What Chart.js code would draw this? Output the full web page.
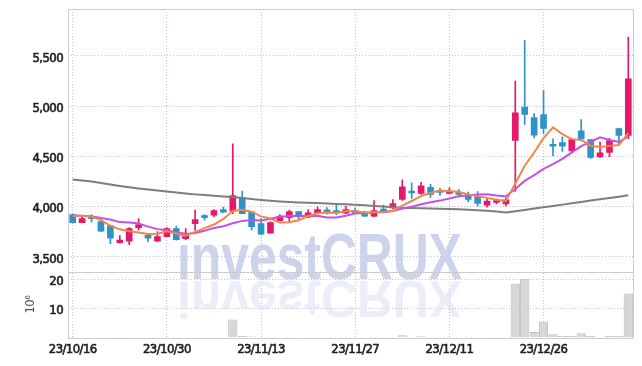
<!DOCTYPE html>
<html><head><meta charset="utf-8">
<script src="https://cdn.jsdelivr.net/npm/chart.js@4/dist/chart.umd.min.js"></script>
<style>html,body{margin:0;padding:0;background:#fff;overflow:hidden}</style>
</head><body>
<canvas id="c" width="642" height="366" style="width:642px;height:366px;display:block"></canvas>
<script>
const dates = ['23/10/16','23/10/17','23/10/18','23/10/19','23/10/20','23/10/23','23/10/24','23/10/25','23/10/26','23/10/27','23/10/30','23/10/31','23/11/01','23/11/02','23/11/03','23/11/06','23/11/07','23/11/08','23/11/09','23/11/10','23/11/13','23/11/14','23/11/15','23/11/16','23/11/17','23/11/20','23/11/21','23/11/22','23/11/23','23/11/24','23/11/27','23/11/28','23/11/29','23/11/30','23/12/01','23/12/04','23/12/05','23/12/06','23/12/07','23/12/08','23/12/11','23/12/12','23/12/13','23/12/14','23/12/15','23/12/18','23/12/19','23/12/20','23/12/21','23/12/22','23/12/26','23/12/27','23/12/28','24/01/02','24/01/03','24/01/04','24/01/05','24/01/08','24/01/09','24/01/10'];

const opens  = [3920,3840,3890,3850,3810,3640,3655,3790,3715,3655,3700,3780,3680,3830,3895,3915,3970,3955,4090,3945,3830,3735,3860,3890,3950,3895,3940,3960,3960,3935,3960,3925,3905,3965,3985,4070,4155,4130,4190,4150,4130,4140,4120,4100,4013,4040,4027,4659,4990,4885,4915,4620,4636,4553,4755,4666,4494,4540,4775,4709];
const highs  = [3925,3905,3920,3855,3815,3710,3790,3880,3720,3750,3790,3805,3780,3965,3920,3970,3995,4625,4155,3950,3880,3850,3920,3965,3950,3970,3997,3990,4020,4003,3985,3955,4060,4015,4070,4265,4235,4240,4220,4180,4185,4170,4145,4150,4073,4075,4087,5250,5655,4925,5156,4675,4693,4680,4865,4670,4643,4680,4780,5687];
const lows   = [3835,3838,3845,3750,3630,3635,3620,3765,3650,3650,3700,3665,3670,3765,3865,3900,3940,3930,3930,3765,3720,3735,3860,3845,3880,3890,3935,3925,3920,3930,3930,3900,3900,3945,3975,4060,4080,4120,4090,4110,4125,4095,4045,4005,3993,4025,4007,4150,4818,4683,4726,4505,4550,4550,4660,4480,4490,4494,4626,4676];
const closes = [3840,3880,3880,3755,3685,3665,3780,3820,3685,3700,3780,3670,3715,3870,3890,3960,3945,4110,3930,3800,3725,3840,3905,3950,3900,3937,3970,3948,3937,3970,3940,3905,3960,3955,4030,4195,4135,4205,4120,4140,4155,4120,4070,4030,4053,4060,4067,4934,4918,4710,4778,4600,4600,4666,4673,4490,4534,4656,4709,5272];

const volumes = [0.15,0.1,0.12,0.2,0.15,0.1,0.15,0.12,0.1,0.1,0.12,0.15,0.1,0.2,0.1,0.15,0.1,6.2,0.5,0.35,0.15,0.12,0.1,0.15,0.1,0.1,0.12,0.1,0.1,0.1,0.12,0.1,0.15,0.1,0.2,0.8,0.2,0.45,0.2,0.15,0.15,0.1,0.15,0.2,0.15,0.1,0.15,18.5,20.2,1.9,5.5,1.1,0.55,0.55,1.5,0.5,0.2,0.5,0.5,15.1];

const ma5  = [3905,3905,3900,3865,3808,3773,3753,3741,3727,3730,3753,3731,3710,3747,3785,3821,3876,3955,3967,3949,3902,3881,3840,3844,3864,3906,3932,3941,3938,3952,3953,3940,3942,3946,3958,4009,4055,4104,4137,4159,4151,4148,4121,4103,4086,4067,4056,4229,4406,4538,4681,4788,4721,4671,4663,4606,4593,4604,4612,4732];
const ma10 = [3912,3908,3903,3885,3870,3845,3840,3830,3800,3775,3763,3742,3726,3737,3758,3787,3804,3833,3857,3867,3862,3879,3898,3906,3907,3904,3907,3891,3891,3908,3930,3936,3942,3942,3955,3981,3998,4023,4042,4059,4080,4102,4113,4120,4122,4109,4102,4175,4255,4312,4374,4422,4475,4539,4601,4644,4690,4663,4642,4698];
const ma60 = [4268,4258,4249,4234,4219,4204,4191,4179,4169,4159,4149,4139,4129,4121,4114,4107,4101,4094,4084,4075,4065,4057,4050,4045,4040,4037,4034,4030,4026,4022,4017,4012,4006,4000,3994,3988,3985,3982,3980,3977,3975,3972,3968,3963,3958,3950,3940,3953,3966,3980,3993,4006,4019,4032,4045,4059,4072,4085,4098,4112];

const priceTicks = [3500,4000,4500,5000,5500];
const volumeTicks = [10,20];
const labelEvery = 10;

const UP = '#e6186b', DOWN = '#2e94c8';
const GRID = '#bfc3d9';
const TEXT = '#1e1e1e';
const FONT = "'DejaVu Sans Condensed','Liberation Sans',sans-serif";

const candleColors = closes.map((c,i)=> c >= opens[i] ? UP : DOWN);
const wickData = lows.map((l,i)=>[l, highs[i]]);
const bodyData = opens.map((o,i)=>[o, closes[i]]);

const tightText = {
  id:'tightText',
  beforeDraw(chart){ chart.ctx.letterSpacing = '-0.6px'; },
  beforeDatasetsDraw(chart){ chart.ctx.letterSpacing = '0px'; }
};

const watermark = {
  id:'watermark',
  beforeDatasetsDraw(chart){
    const ctx = chart.ctx;
    const text = 'investCRUX';
    ctx.save();
    ctx.letterSpacing = '0px';
    ctx.font = "bold 65px 'Liberation Sans', sans-serif";
    const w = ctx.measureText(text).width;
    ctx.translate(177, 279);
    ctx.scale(285 / w, 1);
    ctx.textBaseline = 'alphabetic';
    ctx.fillStyle = 'rgba(196,203,230,0.85)';
    ctx.fillText(text, 0, 0);
    ctx.scale(1, -0.8);
    ctx.fillStyle = 'rgba(212,216,237,0.45)';
    ctx.fillText(text, 0, -2);
    ctx.restore();
  }
};

const frame = {
  id:'frame',
  afterDatasetsDraw(chart){
    const ctx = chart.ctx;
    const a = chart.chartArea;
    const yv = chart.scales.yv;
    ctx.save();
    ctx.strokeStyle = '#cccccc';
    ctx.lineWidth = 1;
    const L = Math.round(a.left)+0.5, R = Math.round(a.right)+0.5, T = Math.round(a.top)+0.5, B = Math.round(a.bottom)+0.5;
    ctx.beginPath();
    ctx.moveTo(L,T); ctx.lineTo(R,T); ctx.lineTo(R,B); ctx.lineTo(L,B); ctx.closePath();
    const D = Math.round(yv.top)+0.5;
    ctx.moveTo(L,D); ctx.lineTo(R,D);
    ctx.stroke();
    ctx.restore();
  }
};

function noPadV(s){ s.width = 68; s.paddingTop = 0; s.paddingBottom = 0; }

new Chart(document.getElementById('c'), {
  data: {
    labels: dates,
    datasets: [
      {type:'line', label:'MA5', data:ma5, yAxisID:'y', borderColor:'#ee8748', borderWidth:2, pointRadius:0, tension:0, order:0},
      {type:'line', label:'MA10', data:ma10, yAxisID:'y', borderColor:'#c94fe2', borderWidth:2, pointRadius:0, tension:0, order:0},
      {type:'line', label:'MA60', data:ma60, yAxisID:'y', borderColor:'#7d7d7d', borderWidth:2, pointRadius:0, tension:0, order:0},
      {type:'bar', label:'body', data:bodyData, yAxisID:'y', backgroundColor:candleColors, barThickness:6, minBarLength:2, grouped:false, order:2},
      {type:'bar', label:'wick', data:wickData, yAxisID:'y', backgroundColor:candleColors, barThickness:1, grouped:false, order:3},
      {type:'bar', label:'volume', data:volumes, yAxisID:'yv', backgroundColor:'#d7d7d7', borderColor:'#bcbcbc', borderWidth:1, barPercentage:1, categoryPercentage:0.98, grouped:false, order:4}
    ]
  },
  options: {
    responsive:false,
    animation:false,
    devicePixelRatio:1,
    layout:{padding:{left:0, top:9, right:9, bottom:0}},
    plugins:{legend:{display:false}, tooltip:{enabled:false}},
    font:{family:FONT},
    scales:{
      x:{
        type:'category', offset:true,
        grid:{offset:false, drawTicks:false, color:(c)=> (c.index % labelEvery === 0) ? GRID : 'rgba(0,0,0,0)', lineWidth:1},
        border:{display:false, dash:[1,2]},
        ticks:{autoSkip:false, maxRotation:0, minRotation:0, padding:4, color:TEXT, textStrokeColor:TEXT, textStrokeWidth:0.6, font:{family:FONT, size:13},
          callback:(v,i)=> (i % labelEvery === 0) ? dates[i] : ''},
        afterFit:(s)=>{ s.height = 28.5; s.paddingLeft = 0; s.paddingRight = 0; }
      },
      y:{
        type:'linear', position:'left', stack:'panes', stackWeight:4, weight:1,
        min:3350, max:5967,
        afterBuildTicks:(s)=>{ s.ticks = priceTicks.map(v=>({value:v})); },
        grid:{drawTicks:false, color:GRID, lineWidth:1},
        border:{display:false, dash:[1,2]},
        ticks:{padding:5, labelOffset:2.5, color:TEXT, textStrokeColor:TEXT, textStrokeWidth:0.6, font:{family:FONT, size:13}, callback:(v)=> Number(v).toLocaleString('en-US')},
        afterFit:noPadV
      },
      yv:{
        type:'linear', position:'left', stack:'panes', stackWeight:1, weight:0,
        min:0, max:22.6,
        afterBuildTicks:(s)=>{ s.ticks = volumeTicks.map(v=>({value:v})); },
        grid:{drawTicks:false, color:GRID, lineWidth:1},
        border:{display:false, dash:[1,2]},
        ticks:{padding:5, labelOffset:2.5, color:TEXT, textStrokeColor:TEXT, textStrokeWidth:0.6, font:{family:FONT, size:13}},
        title:{display:true, text:'10⁶', color:'#555', font:{family:FONT, size:13}, padding:{top:23, bottom:0}},
        afterFit:noPadV
      }
    }
  },
  plugins:[tightText, watermark, frame]
});
</script>
</body></html>
